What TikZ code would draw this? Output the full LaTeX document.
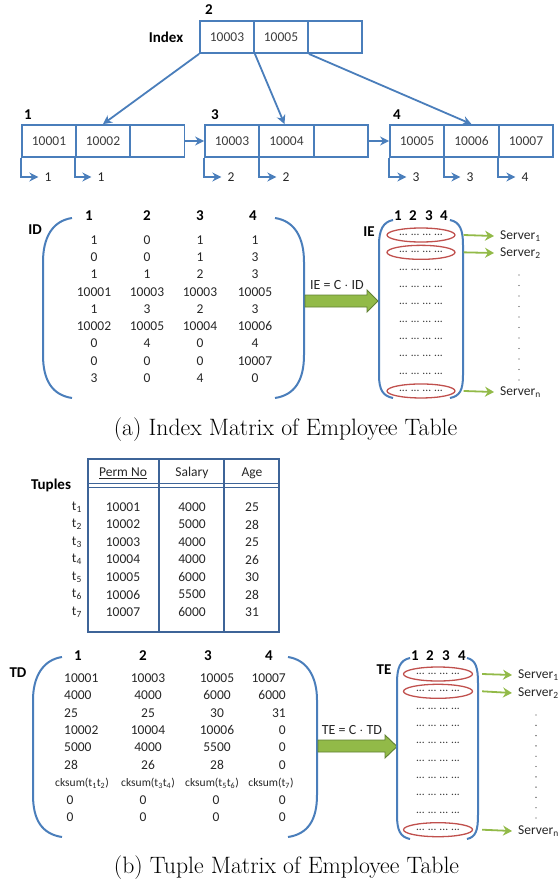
\documentclass[tikz,border=0pt]{standalone}
\usepackage{fontspec}
\setsansfont{Carlito}
\usetikzlibrary{arrows.meta,shapes.geometric}
\definecolor{bblue}{RGB}{74,126,187}
\definecolor{tblue}{RGB}{62,100,152}
\definecolor{ggreen}{RGB}{146,186,72}
\definecolor{gdark}{RGB}{96,128,52}
\definecolor{rred}{RGB}{192,80,77}
\definecolor{dgray}{RGB}{60,60,60}
\newcommand{\numf}{\sffamily\fontsize{13.5}{14}\selectfont}
\newcommand{\boldf}{\sffamily\bfseries\fontsize{15}{16}\selectfont}
\tikzset{
  cell/.style={draw=bblue, line width=1.8pt, minimum width=54pt, minimum height=32pt, inner sep=0pt, font=\numf, text=dgray},
  num/.style={font=\numf, inner sep=0pt, text=black!85},
  bhead/.style={font=\boldf, inner sep=0pt},
  barrow/.style={draw=bblue, line width=1.8pt, -{Stealth[length=9pt,width=9pt]}},
  brk/.style={draw=bblue, line width=2pt},
  fatarr/.style={fill=ggreen, draw=gdark, line width=0.9pt, line join=miter},
  garrow/.style={draw=ggreen, line width=1.8pt, -{Stealth[length=9pt,width=10pt]}},
  dotrow/.style={font=\sffamily\fontsize{11.5}{11.5}\selectfont, text=dgray, inner sep=0pt},
  redell/.style={ellipse, draw=rred, line width=1.3pt, minimum width=#1, minimum height=14pt, inner sep=0pt},
  srv/.style={font=\numf, inner sep=0pt, anchor=west, text=black!85},
  captxt/.style={font=\fontsize{23.7}{28}\selectfont, inner sep=0pt},
  tline/.style={draw=tblue, line width=1.5pt},
  cks/.style={font=\sffamily\fontsize{11.5}{12}\selectfont, inner sep=0pt, text=black!85},
  vdot/.style={fill=dgray, draw=none}
}
\begin{document}
\begin{tikzpicture}[x=1pt,y=-1pt]
\useasboundingbox (0,0) rectangle (559,887);
% ---------------- B-tree ----------------
\node[bhead] (n2) at (209,10) {2};
\node[bhead] (idx) at (166,37) {Index};
\node[cell] (r1) at (227,37) {10003};
\node[cell] (r2) at (281,37) {10005};
\node[cell] (r3) at (335,37) {};

\node[bhead] (n1) at (28,115) {1};
\node[cell] (l1a) at (49,141) {10001};
\node[cell] (l1b) at (103,141) {10002};
\node[cell] (l1c) at (157.5,141) {};

\node[bhead] (n3) at (215,115) {3};
\node[cell] (l3a) at (232,141) {10003};
\node[cell] (l3b) at (286.5,141) {10004};
\node[cell] (l3c) at (341,141) {};

\node[bhead] (n4) at (397,115) {4};
\node[cell] (l4a) at (417,141) {10005};
\node[cell] (l4b) at (471.5,141) {10006};
\node[cell] (l4c) at (526,141) {10007};

\draw[barrow] (r1.south west) -- (l1b.north);
\draw[barrow] (r1.south east) -- ([xshift=-2pt]l3b.north);
\draw[barrow] (r2.south east) -- (l4b.north);
\draw[barrow] (l1c.east) -- (l3a.west);
\draw[barrow] (l3c.east) -- (l4a.west);

\foreach \c/\x/\t in {l1a/48/1, l1b/101/1, l3a/231/2, l3b/286/2, l4a/416/3, l4b/470/3, l4c/525/4}{
  \node[num] (q\c) at (\x,177) {\t};
  \draw[barrow] (\c.south west) |- ([xshift=-6pt]q\c.west);
}

% ---------------- ID matrix ----------------
\node[bhead] (idl) at (35,230) {ID};
\foreach \t/\x in {1/89,2/147,3/200,4/253}{\node[bhead] (idh\t) at (\x,216) {\t};}
\foreach \r/\a/\b/\c/\d in {1/1/0/1/1, 2/0/0/1/3, 3/1/1/2/3, 4/10001/10003/10003/10005, 5/1/3/2/3, 6/10002/10005/10004/10006, 7/0/4/0/4, 8/0/0/0/10007, 9/3/0/4/0}{
  \node[num] (id\r a) at ({94},{240+17.25*(\r-1)}) {\a};
  \node[num] (id\r b) at ({147},{240+17.25*(\r-1)}) {\b};
  \node[num] (id\r c) at ({200},{240+17.25*(\r-1)}) {\c};
  \node[num] (id\r d) at ({255},{240+17.25*(\r-1)}) {\d};
}
\draw[brk] (72,218) .. controls (52,221) and (43,238) .. (43,262) -- (43,355) .. controls (43,380) and (52,395) .. (72,398);
\draw[brk] (275,218) .. controls (295,221) and (304,238) .. (304,262) -- (304,355) .. controls (304,380) and (295,395) .. (275,398);

\draw[fatarr] (305,295) -- (367,295) -- (367,290) -- (378,301) -- (367,312) -- (367,307) -- (305,307) -- cycle;
\node[num, font=\sffamily\fontsize{14}{14}\selectfont] (fa1l) at (337,285) {IE = C $\cdot$ ID};

% ---------------- IE ----------------
\node[bhead] (iel) at (369,232) {IE};
\foreach \t/\x in {1/398,2/413,3/429,4/444}{\node[bhead] (ieh\t) at (\x,216) {\t};}
\foreach \i in {1,...,10}{
  \node[dotrow] (ie\i) at ({421},{235+17.33*(\i-1)}) {...\hspace{3pt}...\hspace{3pt}...\hspace{3pt}...};
}
\draw[brk] (393,220) .. controls (383,222) and (379,230) .. (379,245) -- (379,375) .. controls (379,390) and (383,396) .. (393,398);
\draw[brk] (450,220) .. controls (460,222) and (463,230) .. (463,245) -- (463,375) .. controls (463,390) and (460,396) .. (450,398);
\foreach \i in {1,2,10}{\node[redell=68pt] (iee\i) at (ie\i) {};}
\node[srv] (s1) at (500,236) {Server\textsubscript{1}};
\node[srv] (s2) at (500,253) {Server\textsubscript{2}};
\node[srv] (sn) at (500,392) {Server\textsubscript{n}};
\draw[garrow] ([xshift=8pt]iee1.east) -- ([xshift=-6pt]s1.west);
\draw[garrow] ([xshift=8pt]iee2.east) -- ([xshift=-6pt]s2.west);
\draw[garrow] ([xshift=8pt]iee10.east) -- ([xshift=-6pt]sn.west);
\foreach \k in {0,...,10}{\fill[vdot] ({519},{275+10.5*\k}) circle (0.7pt);}

\node[captxt] (capa) at (285.5,430) {(a) Index Matrix of Employee Table};

% ---------------- Tuples table ----------------
\node[bhead] (tup) at (51,485) {Tuples};
\draw[tline] (88,459) rectangle (279,632);
\draw[tline] (159,459) -- (159,632);
\draw[tline] (224,459) -- (224,632);
\draw[tblue, line width=1pt] (88,483) -- (279,483);
\draw[tblue, line width=1pt] (88,487) -- (279,487);
\node[num] (hp) at (123,473) {\underline{Perm No}};
\node[num] (hs) at (192,473) {Salary};
\node[num] (ha) at (252,473) {Age};
\foreach \r/\a/\b/\c in {1/10001/4000/25, 2/10002/5000/28, 3/10003/4000/25, 4/10004/4000/26, 5/10005/6000/30, 6/10006/5500/28, 7/10007/6000/31}{
  \node[num, anchor=east] (t\r) at ({82},{507+17.5*(\r-1)}) {t\textsubscript{\r}};
  \node[num] (t\r a) at ({123},{507+17.5*(\r-1)}) {\a};
  \node[num] (t\r b) at ({192},{507+17.5*(\r-1)}) {\b};
  \node[num] (t\r c) at ({252},{507+17.5*(\r-1)}) {\c};
}

% ---------------- TD matrix ----------------
\node[bhead] (tdl) at (18,673) {TD};
\foreach \t/\x in {1/78,2/143,3/208,4/269}{\node[bhead] (tdh\t) at (\x,656) {\t};}
\foreach \r/\a/\b/\c/\d in {1/10001/10003/10005/10007, 2/4000/4000/6000/6000, 3/25/25/30/31, 4/10002/10004/10006/0, 5/5000/4000/5500/0, 6/28/26/28/0}{
  \node[num, anchor=west] (td\r a) at ({64},{678+17.4*(\r-1)}) {\a};
  \node[num] (td\r b) at ({148},{678+17.4*(\r-1)}) {\b};
  \node[num] (td\r c) at ({217},{678+17.4*(\r-1)}) {\c};
  \node[num, anchor=east] (td\r d) at ({286},{678+17.4*(\r-1)}) {\d};
}
\node[cks] (td7a) at (82,783) {cksum(t\textsubscript{1}t\textsubscript{2})};
\node[cks] (td7b) at (148,783) {cksum(t\textsubscript{3}t\textsubscript{4})};
\node[cks] (td7c) at (212,783) {cksum(t\textsubscript{5}t\textsubscript{6})};
\node[cks] (td7d) at (271,783) {cksum(t\textsubscript{7})};
\foreach \r/\y in {8/800,9/817}{
  \node[num] (td\r a) at (70,\y) {0};
  \node[num] (td\r b) at (143,\y) {0};
  \node[num] (td\r c) at (216,\y) {0};
  \node[num, anchor=east] (td\r d) at (286,\y) {0};
}
\draw[brk] (62,657) .. controls (42,660) and (33,678) .. (33,700) -- (33,795) .. controls (33,820) and (42,834) .. (62,837);
\draw[brk] (288,657) .. controls (308,660) and (317,678) .. (317,700) -- (317,795) .. controls (317,820) and (308,834) .. (288,837);

\draw[fatarr] (318,740) -- (385,740) -- (385,735) -- (397,746.5) -- (385,758) -- (385,752) -- (318,752) -- cycle;
\node[num, font=\sffamily\fontsize{14}{14}\selectfont] (fa2l) at (352,730) {TE = C $\cdot$ TD};

% ---------------- TE ----------------
\node[bhead] (tel) at (384,670) {TE};
\foreach \t/\x in {1/415,2/430,3/446,4/462}{\node[bhead] (teh\t) at (\x,656) {\t};}
\foreach \i in {1,...,10}{
  \node[dotrow] (te\i) at ({438},{674+17.3*(\i-1)}) {...\hspace{3pt}...\hspace{3pt}...\hspace{3pt}...};
}
\draw[brk] (410,658) .. controls (400,660) and (397,668) .. (397,683) -- (397,815) .. controls (397,830) and (400,837) .. (410,839);
\draw[brk] (467,658) .. controls (476,660) and (478,668) .. (478,683) -- (478,815) .. controls (478,830) and (476,837) .. (467,839);
\foreach \i in {1,2,10}{\node[redell=69pt] (tee\i) at (te\i) {};}
\node[srv] (u1) at (518,675) {Server\textsubscript{1}};
\node[srv] (u2) at (518,693) {Server\textsubscript{2}};
\node[srv] (un) at (518,831) {Server\textsubscript{n}};
\draw[garrow] ([xshift=9pt]tee1.east) -- ([xshift=-6pt]u1.west);
\draw[garrow] ([xshift=9pt]tee2.east) -- ([xshift=-6pt]u2.west);
\draw[garrow] ([xshift=9pt]tee10.east) -- ([xshift=-6pt]un.west);
\foreach \k in {0,...,10}{\fill[vdot] ({536},{715+10.3*\k}) circle (0.7pt);}

\node[captxt] (capb) at (286.5,868) {(b) Tuple Matrix of Employee Table};
\end{tikzpicture}
\end{document}
